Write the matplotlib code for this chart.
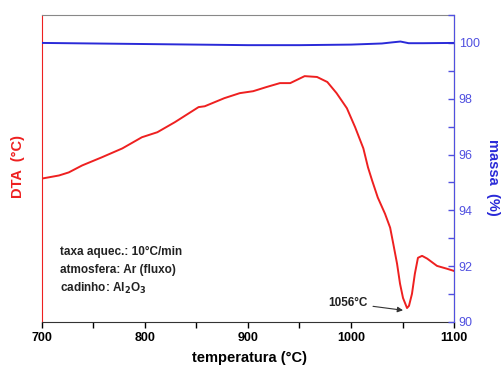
import matplotlib
matplotlib.use("Agg")
import matplotlib.pyplot as plt
from matplotlib.ticker import MultipleLocator

plt.rcParams['font.family'] = ['Liberation Sans', 'DejaVu Sans']

# DTA curve (arbitrary units, drawn on same scale as mass axis)
dta_temp = [700, 716.5, 726, 739, 758, 778, 797, 812, 829, 852, 858, 877, 892,
            905, 918, 931, 941, 955, 967, 977, 986, 996, 1004, 1012, 1016.5,
            1020.5, 1026, 1033, 1038, 1041, 1044.7, 1047.6, 1050.5, 1054.4,
            1056.3, 1059.2, 1062, 1065, 1069, 1074, 1083.5, 1093, 1100]
dta_val = [95.14, 95.25, 95.36, 95.61, 95.90, 96.22, 96.62, 96.80, 97.16, 97.70,
           97.73, 98.02, 98.20, 98.27, 98.42, 98.56, 98.56, 98.81, 98.78, 98.60,
           98.20, 97.66, 96.98, 96.22, 95.54, 95.07, 94.46, 93.88, 93.38, 92.81,
           92.09, 91.37, 90.86, 90.50, 90.58, 91.01, 91.73, 92.30, 92.37, 92.27,
           92.01, 91.91, 91.83]

# mass curve (%)
mass_temp = [700, 750, 800, 850, 900, 950, 1000, 1030, 1040, 1048, 1056, 1070, 1100]
mass_val = [100.0, 99.98, 99.96, 99.94, 99.92, 99.92, 99.94, 99.98, 100.02, 100.05, 99.99, 99.99, 100.0]

red = '#ee2020'
blue = '#2a2ad8'
tickblue = '#5050e0'

fig = plt.figure(figsize=(5.01, 3.69), dpi=100)
ax = fig.add_axes([0.0838, 0.1274, 0.8224, 0.8319])
ax2 = ax.twinx()

ax.plot(dta_temp, dta_val, color=red, lw=1.4)
ax2.plot(mass_temp, mass_val, color=blue, lw=1.4)

ax.set_xlim(700, 1100)
ax.set_ylim(90, 101)
ax2.set_ylim(90, 101)

ax.set_yticks([])
ax.xaxis.set_major_locator(MultipleLocator(100))
ax.xaxis.set_minor_locator(MultipleLocator(50))
ax.tick_params(axis='x', which='both', direction='out', length=4, width=1,
               labelsize=9)
for lbl in ax.get_xticklabels():
    lbl.set_fontweight('bold')

ax2.yaxis.set_major_locator(MultipleLocator(2))
ax2.yaxis.set_minor_locator(MultipleLocator(1))
ax2.tick_params(axis='y', which='both', direction='in', length=4, width=1,
                colors=tickblue, labelsize=9)

ax.spines['left'].set_color(red)
ax.spines['top'].set_color('#888888')
ax.spines['bottom'].set_color('#333333')
ax2.spines['right'].set_color(tickblue)
ax2.spines['left'].set_visible(False)
ax2.spines['top'].set_visible(False)
ax2.spines['bottom'].set_visible(False)

# axis titles placed directly on the figure
fig.text(0.499, 0.030, 'temperatura (°C)', fontsize=10.5, fontweight='bold',
         ha='center', va='center')
fig.text(0.036, 0.55, 'DTA  (°C)', fontsize=10.5, fontweight='bold', color=red,
         rotation=90, ha='center', va='center')
fig.text(0.984, 0.518, 'massa  (%)', fontsize=10.5, fontweight='bold', color=blue,
         rotation=270, ha='center', va='center')

info = ['taxa aquec.: 10°C/min', 'atmosfera: Ar (fluxo)',
        'cadinho: Al$_\\mathbf{2}$O$_\\mathbf{3}$']
for i, s in enumerate(info):
    ax.text(0.044, 0.228 - i * 0.059, s, transform=ax.transAxes, va='center',
            fontsize=8.5, fontweight='bold', color='#222222')

ax.annotate('1056°C', xy=(1050.5, 90.42), xytext=(1016, 90.68),
            fontsize=8.5, fontweight='bold', color='#222222',
            ha='right', va='center',
            arrowprops=dict(arrowstyle='-|>', color='#333333', lw=0.8,
                            mutation_scale=8, shrinkA=2, shrinkB=0))

fig.savefig('out.png', dpi=100)
